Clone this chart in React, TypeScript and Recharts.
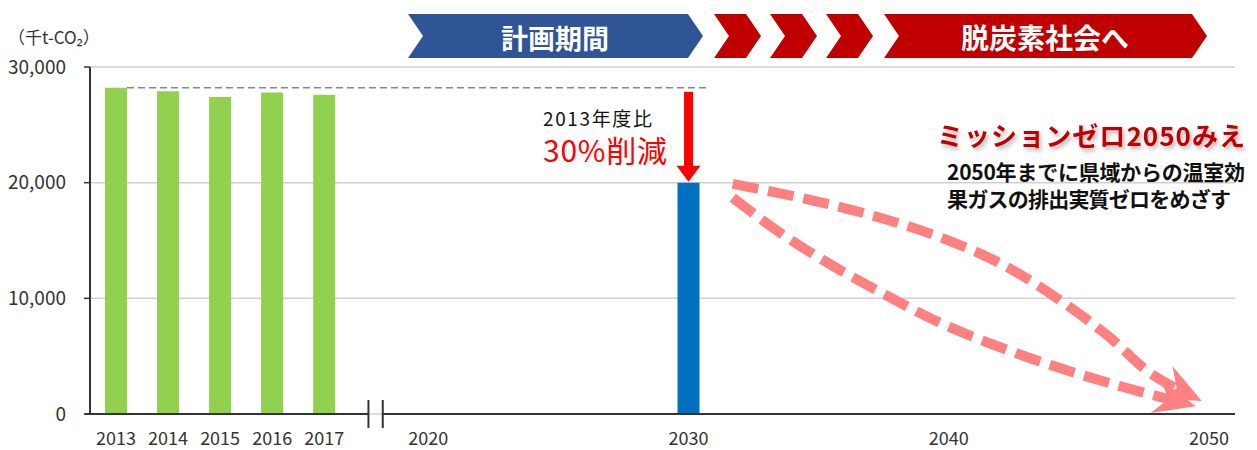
import { ComposedChart, Bar, Cell, Line, XAxis, YAxis, CartesianGrid, ReferenceLine } from 'recharts';

// emissions (thousand t-CO2)
const barYears = [2013, 2014, 2015, 2016, 2017, 2030];
const emissions = [28200, 27900, 27400, 27800, 27600, 20000];
const barColors = ['#92D050', '#92D050', '#92D050', '#92D050', '#92D050', '#0070C0'];

const tickYears = [2013, 2014, 2015, 2016, 2017, 2020, 2030, 2040, 2050];
const yTicks = [0, 10000, 20000, 30000];

// dashed "path to zero" arrows
const upperYears = [2031.7, 2034.3, 2037.0, 2039.7, 2042.0, 2044.3, 2046.2, 2047.7, 2048.9];
const upperValues = [19900, 18700, 17200, 15250, 13000, 9800, 6600, 3600, 2050];
const lowerYears = [2031.7, 2033.5, 2035.4, 2037.4, 2039.7, 2042.0, 2044.3, 2046.6, 2048.6];
const lowerValues = [18700, 15700, 13000, 10500, 7850, 5750, 3950, 2400, 1200];

// broken x axis: two slots per year up to 2017, one slot per year from 2020
const pos = (year: number) => (year <= 2017 ? 1 + 2 * (year - 2013) : 13 + (year - 2020));
const breakAt = [10.7, 11.25];

const barData = barYears.map((y, i) => ({ pos: pos(y), value: emissions[i] }));
const upperData = upperYears.map((y, i) => ({ pos: pos(y), v: upperValues[i] }));
const lowerData = lowerYears.map((y, i) => ({ pos: pos(y), v: lowerValues[i] }));
const tickPos = tickYears.map(pos);

const FONT = "'Noto Sans CJK JP', 'Noto Sans', sans-serif";
const PINK = '#FF8080';

const axisSegment = (cap: 'start' | 'end') => (props: any) => {
  const { x1, y1, x2, y2 } = props;
  const cx = cap === 'end' ? x2 : x1;
  return (
    <g>
      <line x1={x1} y1={y1} x2={x2} y2={y2} stroke="#333" strokeWidth={2} />
      <line x1={cx} y1={y1 - 14} x2={cx} y2={y1 + 14} stroke="#333" strokeWidth={2} />
    </g>
  );
};

const DropArrow = (props: any) => {
  const { x1, y1, y2 } = props;
  const head = 16;
  return (
    <g>
      <rect x={x1 - 4.5} y={y1 + 4} width={9} height={y2 - y1 - 4 - head} fill="#FF0000" />
      <polygon points={`${x1 - 12},${y2 - head - 1} ${x1 + 12},${y2 - head - 1} ${x1},${y2 - 1}`} fill="#FF0000" />
    </g>
  );
};

function Banners() {
  const chevrons = [714, 770, 826];
  return (
    <svg width={1257} height={450} style={{ position: 'absolute', left: 0, top: 0, pointerEvents: 'none' }}>
      <defs>
        <marker id="pinkHead" markerUnits="userSpaceOnUse" markerWidth={48} markerHeight={40} refX={18} refY={18} orient="auto">
          <path d="M0,0 L42,18 L0,36 L14,18 Z" fill={PINK} />
        </marker>
        <filter id="titleShadow" x="-10%" y="-30%" width="120%" height="160%">
          <feDropShadow dx={2} dy={3} stdDeviation={2} floodColor="#000" floodOpacity={0.3} />
        </filter>
      </defs>

      <polygon points="408,14 688,14 703,36 688,58 408,58 423,36" fill="#2F5597" />
      {chevrons.map((x) => (
        <polygon key={x} points={`${x},14 ${x + 32},14 ${x + 47},36 ${x + 32},58 ${x},58 ${x + 15},36`} fill="#C00000" />
      ))}
      <polygon points="884,14 1192,14 1207,36 1192,58 884,58 899,36" fill="#C00000" />
      <text x={555} y={37} fill="#fff" fontSize={27} fontWeight="bold" textAnchor="middle" dominantBaseline="central" fontFamily={FONT}>計画期間</text>
      <text x={1045} y={37} fill="#fff" fontSize={28} fontWeight="bold" textAnchor="middle" dominantBaseline="central" fontFamily={FONT}>脱炭素社会へ</text>

      <text x={8} y={36} fill="#333" fontSize={17} dominantBaseline="central" fontFamily={FONT}>（千t-CO₂）</text>

      <text x={543} y={117} fill="#111" fontSize={19} dominantBaseline="central" fontFamily={FONT} textLength={109} lengthAdjust="spacing">2013年度比</text>
      <text x={543} y={149} fill="#FF0000" fontSize={30} dominantBaseline="central" fontFamily={FONT} textLength={124} lengthAdjust="spacing">30%削減</text>

      <text x={937} y={134} fill="#C00000" fontSize={26} fontWeight="bold" dominantBaseline="central" fontFamily={FONT} filter="url(#titleShadow)" textLength={308} lengthAdjust="spacing">ミッションゼロ2050みえ</text>
      <text x={947} y={171} fill="#111" fontSize={21} fontWeight="bold" dominantBaseline="central" fontFamily={FONT} textLength={298} lengthAdjust="spacing">2050年までに県域からの温室効</text>
      <text x={947} y={198} fill="#111" fontSize={21} fontWeight="bold" dominantBaseline="central" fontFamily={FONT} textLength={284} lengthAdjust="spacing">果ガスの排出実質ゼロをめざす</text>
    </svg>
  );
}

export default function App() {
  const base = emissions[0];
  const target = emissions[emissions.length - 1];
  return (
    <div style={{ position: 'absolute', left: 0, top: 0, width: 1257, height: 450, background: '#fff' }}>
      <ComposedChart width={1257} height={450} data={barData} margin={{ top: 67, right: 22, bottom: 0, left: 0 }}>
        <CartesianGrid vertical={false} stroke="#d0d0d0" strokeWidth={1.5} />
        <XAxis
          dataKey="pos"
          type="number"
          domain={[0, 44]}
          ticks={tickPos}
          tickFormatter={(v: number) => String(tickYears[tickPos.indexOf(v)] ?? '')}
          axisLine={false}
          tickLine={false}
          tickSize={0}
          tickMargin={18}
          height={36}
          interval={0}
          tick={{ fontSize: 18, fill: '#333', fontFamily: FONT }}
        />
        <XAxis xAxisId="curve" dataKey="pos" type="number" domain={[0, 44]} hide />
        <YAxis
          domain={[0, 30000]}
          ticks={yTicks}
          tickFormatter={(v: number) => v.toLocaleString('en-US')}
          width={90}
          axisLine={{ stroke: '#333', strokeWidth: 2 }}
          tickLine={{ stroke: '#333', strokeWidth: 1.5 }}
          tickSize={6}
          tickMargin={18}
          tick={{ fontSize: 19, fill: '#333', fontFamily: FONT }}
        />
        <ReferenceLine
          segment={[{ x: pos(2013) + 0.42, y: base }, { x: pos(2030) + 0.75, y: base }]}
          stroke="#888"
          strokeWidth={1.5}
          strokeDasharray="7 4"
          ifOverflow="visible"
        />
        <Bar dataKey="value" barSize={22} isAnimationActive={false}>
          {barData.map((d, i) => (
            <Cell key={d.pos} fill={barColors[i]} />
          ))}
        </Bar>
        <ReferenceLine
          segment={[{ x: pos(2030), y: base }, { x: pos(2030), y: target }]}
          shape={DropArrow}
          ifOverflow="visible"
        />
        <Line
          xAxisId="curve"
          data={upperData}
          dataKey="v"
          type="monotone"
          stroke={PINK}
          strokeWidth={10}
          strokeDasharray="26 10"
          dot={false}
          activeDot={false}
          markerEnd="url(#pinkHead)"
          isAnimationActive={false}
        />
        <Line
          xAxisId="curve"
          data={lowerData}
          dataKey="v"
          type="monotone"
          stroke={PINK}
          strokeWidth={10}
          strokeDasharray="26 10"
          dot={false}
          activeDot={false}
          markerEnd="url(#pinkHead)"
          isAnimationActive={false}
        />
        <ReferenceLine segment={[{ x: -0.2, y: 0 }, { x: breakAt[0], y: 0 }]} shape={axisSegment('end')} ifOverflow="visible" />
        <ReferenceLine segment={[{ x: breakAt[1], y: 0 }, { x: 44, y: 0 }]} shape={axisSegment('start')} ifOverflow="visible" />
      </ComposedChart>
      <Banners />
    </div>
  );
}
